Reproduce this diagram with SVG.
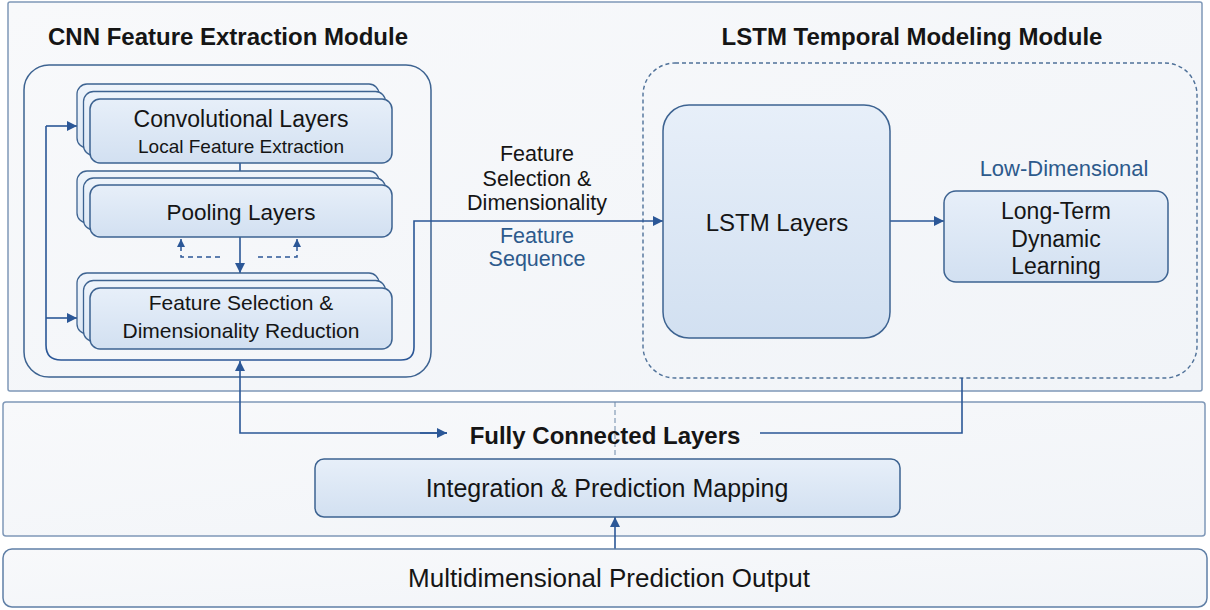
<svg xmlns="http://www.w3.org/2000/svg" width="1210" height="610" viewBox="0 0 1210 610">
<defs>
<linearGradient id="boxg" x1="0" y1="0" x2="0" y2="1">
<stop offset="0" stop-color="#e7eff9"/>
<stop offset="1" stop-color="#d2e0f1"/>
</linearGradient>
<linearGradient id="backg" x1="0" y1="0" x2="0" y2="1">
<stop offset="0" stop-color="#eef4fb"/>
<stop offset="1" stop-color="#dde8f5"/>
</linearGradient>
<linearGradient id="panelg" x1="0" y1="0" x2="1" y2="1">
<stop offset="0" stop-color="#f8f9fb"/>
<stop offset="1" stop-color="#f1f4f8"/>
</linearGradient>
<marker id="arr" viewBox="0 0 10 10" refX="10" refY="5" markerWidth="10" markerHeight="10" markerUnits="userSpaceOnUse" orient="auto">
<path d="M0,0 L10,5 L0,10 z" fill="#2b5797"/>
</marker>
<marker id="arrs" viewBox="0 0 10 10" refX="10" refY="5" markerWidth="8" markerHeight="9" markerUnits="userSpaceOnUse" orient="auto">
<path d="M0,0 L10,5 L0,10 z" fill="#2b5797"/>
</marker>
</defs>
<style>
.panel{fill:url(#panelg);stroke:#7f98b8;stroke-width:1.5}
.box{fill:url(#boxg);stroke:#3d6391;stroke-width:1.5}
.back{fill:url(#backg);stroke:#3d6391;stroke-width:1.3}
.frame{fill:none;stroke:#3d6391;stroke-width:1.5}
.dashframe{fill:none;stroke:#4f7199;stroke-width:1.4;stroke-dasharray:4 3}
.line{fill:none;stroke:#2b5797;stroke-width:1.6}
.dline{fill:none;stroke:#2b5797;stroke-width:1.5;stroke-dasharray:5 4}
.thin{fill:none;stroke:#6d88a8;stroke-width:1;stroke-dasharray:5 3}
text{font-family:"Liberation Sans",Arial,sans-serif;fill:#151515;text-anchor:middle}
.title{font-weight:bold;font-size:24px}
.blue{fill:#2d5a8c}
</style>

<g id="panels">
<rect class="panel" x="8" y="2" width="1194" height="389" rx="2"/>
<rect class="panel" x="3" y="402" width="1202" height="134" rx="3"/>
</g>

<g id="cnn-module">
<text class="title" x="228" y="45">CNN Feature Extraction Module</text>
<rect class="frame" x="24" y="65" width="407" height="312" rx="25"/>
</g>

<g id="lstm-module">
<text class="title" x="912" y="45">LSTM Temporal Modeling Module</text>
<rect class="dashframe" x="643" y="63" width="554" height="315" rx="32"/>
</g>

<g id="connectors">
<path class="line" d="M46,126 H77" marker-end="url(#arr)"/>
<path class="line" d="M46,318 H77" marker-end="url(#arr)"/>
<path class="line" d="M46,126 V345 Q46,360 61,360 H401 Q414,360 414,347 V221 H663" marker-end="url(#arr)"/>
<path class="line" d="M240,163 V185"/>
<path class="line" d="M240,237 V273" marker-end="url(#arr)"/>
<path class="dline" d="M220,257 H181 V239" marker-end="url(#arrs)"/>
<path class="dline" d="M258,257 H297 V239" marker-end="url(#arrs)"/>
<path class="line" d="M890,221 H944" marker-end="url(#arr)"/>
<path class="line" d="M447,433 H240 V361" marker-end="url(#arr)"/>
<path class="line" d="M420,433 H447" marker-end="url(#arr)"/>
<path class="line" d="M760,433 H962 V378"/>
<path class="thin" d="M615,402 V455"/>
<path class="line" d="M615,549 V517" marker-end="url(#arr)"/>
</g>

<g id="conv-layers">
<rect class="back" x="77" y="84" width="302" height="64" rx="10"/>
<rect class="back" x="83.5" y="91.5" width="302" height="64" rx="10"/>
<rect class="box" x="90" y="99" width="302" height="64" rx="10"/>
<text x="241" y="127" font-size="23">Convolutional Layers</text>
<text x="241" y="153" font-size="19">Local Feature Extraction</text>
</g>

<g id="pooling-layers">
<rect class="back" x="77" y="171" width="302" height="52" rx="10"/>
<rect class="back" x="83.5" y="178" width="302" height="52" rx="10"/>
<rect class="box" x="90" y="185" width="302" height="52" rx="10"/>
<text x="241" y="220" font-size="22.5">Pooling Layers</text>
</g>

<g id="feature-selection">
<rect class="back" x="77" y="273" width="302" height="61" rx="10"/>
<rect class="back" x="83.5" y="280.5" width="302" height="61" rx="10"/>
<rect class="box" x="90" y="288" width="302" height="61" rx="10"/>
<text x="241" y="310" font-size="21">Feature Selection &amp;</text>
<text x="241" y="338" font-size="21">Dimensionality Reduction</text>
</g>

<g id="sequence-label">
<text x="537" y="161" font-size="21.5">Feature</text>
<text x="537" y="186" font-size="21.5">Selection &amp;</text>
<text x="537" y="210" font-size="21.5">Dimensionality</text>
<text class="blue" x="537" y="243" font-size="21.5">Feature</text>
<text class="blue" x="537" y="266" font-size="21.5">Sequence</text>
</g>

<g id="lstm-layers">
<rect class="box" x="663" y="105" width="227" height="233" rx="26"/>
<text x="777" y="231" font-size="24">LSTM Layers</text>
</g>

<g id="long-term">
<text class="blue" x="1064" y="176" font-size="22">Low-Dimensional</text>
<rect class="box" x="944" y="191" width="224" height="91" rx="12"/>
<text x="1056" y="219" font-size="23">Long-Term</text>
<text x="1056" y="247" font-size="23">Dynamic</text>
<text x="1056" y="274" font-size="23">Learning</text>
</g>

<g id="fully-connected">
<text class="title" x="605" y="444">Fully Connected Layers</text>
</g>

<g id="integration">
<rect class="box" x="315" y="459" width="585" height="58" rx="9"/>
<text x="607" y="497" font-size="25">Integration &amp; Prediction Mapping</text>
</g>

<g id="output">
<rect class="panel" x="3" y="549" width="1204" height="58" rx="9" style="stroke:#5f7fa6"/>
<text x="609" y="587" font-size="26">Multidimensional Prediction Output</text>
</g>
</svg>
